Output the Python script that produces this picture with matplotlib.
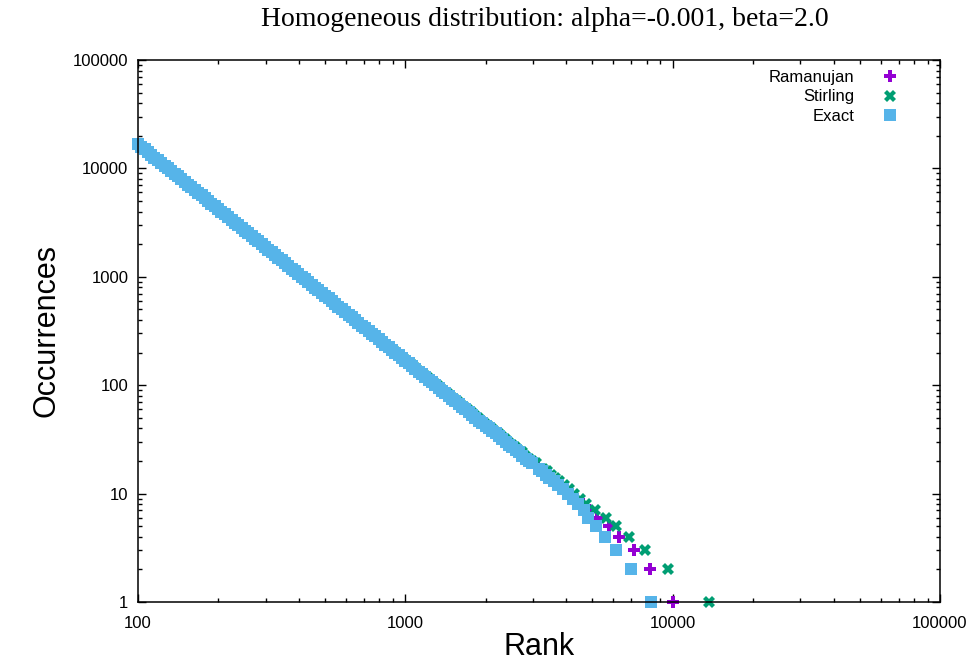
import numpy as np
import matplotlib
matplotlib.use("Agg")
import matplotlib.pyplot as plt
from matplotlib.ticker import FixedLocator, FixedFormatter, LogLocator, NullFormatter

plt.rcParams['font.family'] = ['Liberation Sans', 'DejaVu Sans']

# ---- data (rank, occurrences) ----
# dense part of the "Exact" series
exact_rank_dense = [100, 103, 106, 109, 112, 115, 119, 122, 126, 129, 133, 137, 141, 145,
                    150, 154, 158, 163, 168, 173, 178, 183, 188, 194, 200, 205, 211, 217,
                    224, 230, 237, 244, 251, 258, 266, 274, 282, 290, 299, 307, 316, 325,
                    335, 345, 355, 365, 376, 387, 398, 410, 422, 434, 447, 460, 473, 487,
                    501, 516, 531, 546, 562, 579, 596, 613, 631, 649, 668, 688, 708, 729,
                    750, 772, 794, 818, 841, 866, 891, 917, 944, 972, 1000, 1029, 1059, 1090,
                    1122, 1155, 1189, 1223, 1259, 1296, 1334, 1373, 1413, 1454, 1496, 1540, 1585, 1631,
                    1679, 1728, 1778, 1830, 1884, 1939, 1995, 2054, 2113, 2175, 2239, 2304, 2371, 2441,
                    2512, 2586, 2661, 2739, 2818, 2901, 2985]
exact_occ_dense = [16800, 15860, 14970, 14140, 13340, 12600, 11890, 11230, 10600, 10010, 9450, 8920, 8420, 7950,
                   7500, 7085, 6690, 6315, 5960, 5630, 5310, 5015, 4740, 4470, 4220, 3985, 3760, 3550,
                   3350, 3165, 2990, 2820, 2660, 2515, 2370, 2240, 2120, 1997, 1890, 1780, 1680, 1586,
                   1500, 1414, 1330, 1260, 1190, 1123, 1060, 1001, 945, 892, 842, 795, 750, 709,
                   669, 631, 596, 563, 531, 502, 474, 447, 422, 398, 376, 355, 335, 317,
                   299, 282, 266, 251, 237, 224, 212, 200, 189, 178, 168, 159, 150, 141,
                   133, 126, 119, 112, 106, 100, 94, 89, 84, 79, 75, 71, 67, 63,
                   60, 56, 53, 50, 47, 45, 42, 40, 38, 36, 34, 32, 30, 28,
                   27, 25, 24, 22, 21, 20, 19]

# tail: one point per integer occurrence value
tail_occ = [17, 16, 15, 14, 13, 12, 11, 10, 9, 8, 7, 6, 5, 4, 3, 2, 1]
exact_rank_tail = [3150, 3240, 3345, 3460, 3590, 3735, 3900, 4070, 4250, 4440,
                   4640, 4840, 5150, 5560, 6120, 6970, 8280]
ramanujan_rank_tail = [3170, 3270, 3380, 3500, 3640, 3790, 3960, 4150, 4360, 4600,
                       4880, 5230, 5760, 6280, 7140, 8200, 9990]
stirling_rank_tail = [3285, 3385, 3495, 3620, 3760, 3910, 4090, 4280, 4500, 4760,
                      5130, 5610, 6120, 6840, 7860, 9570, 13650]

# dense parts of the approximations (mostly hidden under "Exact")
ramanujan_rank_dense = [100, 126, 158, 200, 251, 316, 398, 501, 631, 794,
                        1002, 1125, 1263, 1418, 1593, 1689, 1790, 1898, 2012, 2133,
                        2262, 2398, 2542, 2694, 2855, 3025]
ramanujan_occ_dense = [16800, 10600, 6690, 4220, 2660, 1680, 1060, 669, 422, 266,
                       168, 133, 106, 84, 67, 60, 53, 47, 42, 38,
                       34, 30, 27, 24, 21, 19]
stirling_rank_dense = [100, 126, 158, 200, 251, 316, 398, 501, 631, 797,
                       821, 845, 870, 896, 923, 950, 978, 1007, 1037, 1067, 1099,
                       1132, 1165, 1200, 1236, 1272, 1310, 1349, 1389, 1430, 1472,
                       1516, 1561, 1608, 1656, 1705, 1756, 1808, 1862, 1918, 1975,
                       2033, 2093, 2155, 2220, 2286, 2354, 2424, 2496, 2571, 2648,
                       2727, 2808, 2893, 2980, 3069]
stirling_occ_dense = [16800, 10600, 6690, 4220, 2660, 1680, 1060, 669, 422, 266,
                      251, 237, 224, 212, 200, 189, 178, 168, 159, 150, 141,
                      133, 126, 119, 112, 106, 100, 94, 89, 84, 79,
                      75, 71, 67, 63, 60, 56, 53, 50, 47, 45,
                      42, 40, 38, 36, 34, 32, 30, 28, 27, 25,
                      24, 22, 21, 20, 19]

title = "Homogeneous distribution: alpha=-0.001, beta=2.0"
xticks = [100, 1000, 10000, 100000]
yticks = [1, 10, 100, 1000, 10000, 100000]

c_ram = '#9400d3'
c_sti = '#009e73'
c_exa = '#56b4e9'

fig = plt.figure(figsize=(9.78, 6.66), dpi=100)
ax = fig.add_axes([138 / 978, 1 - 602 / 666, 802 / 978, 542 / 666])

ax.plot(ramanujan_rank_dense + ramanujan_rank_tail, ramanujan_occ_dense + tail_occ,
        linestyle='none', marker='P', ms=9, mew=0, color=c_ram, label='Ramanujan',
        clip_on=False)
ax.plot(stirling_rank_dense + stirling_rank_tail, stirling_occ_dense + tail_occ,
        linestyle='none', marker='X', ms=9, mew=0, color=c_sti, label='Stirling',
        clip_on=False)
ax.plot(exact_rank_dense + exact_rank_tail, exact_occ_dense + tail_occ,
        linestyle='none', marker='s', ms=8.2, mew=0, color=c_exa, label='Exact',
        clip_on=False)

ax.set_xscale('log')
ax.set_yscale('log')
ax.set_xlim(100, 100000)
ax.set_ylim(1, 100000)

ax.xaxis.set_major_locator(FixedLocator(xticks))
ax.xaxis.set_major_formatter(FixedFormatter([str(v) for v in xticks]))
ax.yaxis.set_major_locator(FixedLocator(yticks))
ax.yaxis.set_major_formatter(FixedFormatter([str(v) for v in yticks]))
for a in (ax.xaxis, ax.yaxis):
    a.set_minor_locator(LogLocator(base=10, subs=np.arange(2, 10)))
    a.set_minor_formatter(NullFormatter())

ax.tick_params(which='both', direction='in', top=True, right=True, labelsize=12,
               width=1.0, color='black')
ax.tick_params(which='major', length=6, pad=7)
ax.tick_params(axis='x', which='major', pad=10)
ax.tick_params(which='minor', length=3)
for s in ax.spines.values():
    s.set_linewidth(1.1)

ax.set_xlabel('Rank', fontsize=22, labelpad=1)
ax.set_ylabel('Occurrences', fontsize=22, labelpad=8)
fig.text(545 / 978, 1 - 20 / 666, title, ha='center', va='center',
         fontsize=20, family=['Liberation Serif', 'DejaVu Serif'])

ax.legend(loc='upper right', bbox_to_anchor=(0.948, 0.981), frameon=False,
          markerfirst=False, fontsize=12, handlelength=1.0, handletextpad=1.65,
          labelspacing=0.25, borderaxespad=0, borderpad=0)

fig.savefig('out.png', dpi=100)
